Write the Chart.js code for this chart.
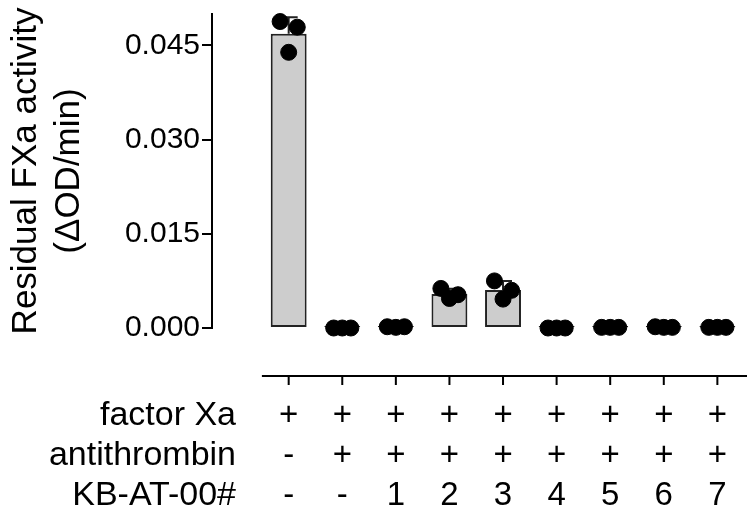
<!DOCTYPE html>
<html>
<head>
<meta charset="utf-8">
<script src="https://cdn.jsdelivr.net/npm/chart.js@4.4.1/dist/chart.umd.min.js"></script>
<style>
  html, body { margin: 0; padding: 0; background: #fff; overflow: hidden; }
</style>
</head>
<body>
<canvas id="fxaChart" width="747" height="512"></canvas>
<script>
// conditions per lane
const factorXa     = ['+', '+', '+', '+', '+', '+', '+', '+', '+'];
const antithrombin = ['-', '+', '+', '+', '+', '+', '+', '+', '+'];
const kbAt         = ['-', '-', '1', '2', '3', '4', '5', '6', '7'];
const rowNames     = ['factor Xa', 'antithrombin', 'KB-AT-00#'];

// residual FXa activity, three replicates (ΔOD/min)
const rep1 = [0.0488, 0, 0.0002, 0.0063, 0.0075, 0, 0.0001, 0.0002, 0.0001];
const rep2 = [0.0479, 0, 0.0002, 0.0053, 0.0060, 0, 0.0001, 0.0001, 0.0001];
const rep3 = [0.0439, 0, 0.0001, 0.0047, 0.0046, 0, 0.0001, 0.0001, 0.0001];

const yTicks = [0, 0.015, 0.030, 0.045];

const reps = [rep1, rep2, rep3];
const means = factorXa.map((_, i) => reps.reduce((s, r) => s + r[i], 0) / reps.length);
const sds = means.map((m, i) =>
  Math.sqrt(reps.reduce((s, r) => s + (r[i] - m) ** 2, 0) / (reps.length - 1)));

const jitter = [-0.16, 0.16, 0];   // horizontal spread of the dots inside a bar
const FONT = "'Liberation Sans', Arial, sans-serif";
const LINE = 40;                    // line height of the condition table
const LABEL_PAD = 68;               // gap from plot bottom to the table

const extras = {
  id: 'extras',
  // SD whiskers (upper only), drawn over the bars but under the dots
  afterDatasetDraw(chart, args) {
    if (args.index !== 0) return;
    const ctx = chart.ctx, y = chart.scales.y;
    const bars = chart.getDatasetMeta(0).data;
    ctx.save();
    ctx.strokeStyle = '#222';
    ctx.lineWidth = 2;
    bars.forEach((bar, i) => {
      if (!(sds[i] > 0)) return;
      const top = y.getPixelForValue(means[i] + sds[i]);
      const half = bar.width / 4;
      ctx.beginPath();
      ctx.moveTo(bar.x, bar.y);
      ctx.lineTo(bar.x, top);
      ctx.moveTo(bar.x - half, top);
      ctx.lineTo(bar.x + half, top);
      ctx.stroke();
    });
    ctx.restore();
  },
  // detached x axis line + row captions of the condition table
  afterDraw(chart) {
    const ctx = chart.ctx, x = chart.scales.x;
    const axisY = chart.chartArea.bottom + 48;
    ctx.save();
    ctx.strokeStyle = '#000';
    ctx.lineWidth = 2;
    ctx.beginPath();
    ctx.moveTo(x.getPixelForValue(-0.5), axisY);
    ctx.lineTo(chart.width, axisY);
    factorXa.forEach((_, i) => {
      const px = x.getPixelForValue(i);
      ctx.moveTo(px, axisY);
      ctx.lineTo(px, axisY + 9);
    });
    ctx.stroke();

    ctx.fillStyle = '#000';
    ctx.font = '34px ' + FONT;
    ctx.textAlign = 'right';
    ctx.textBaseline = 'middle';
    rowNames.forEach((t, k) => {
      ctx.fillText(t, 236, x.top + LABEL_PAD + LINE / 2 + k * LINE);
    });
    ctx.restore();
  }
};

new Chart(document.getElementById('fxaChart'), {
  type: 'bar',
  data: {
    datasets: [
      {
        type: 'bar',
        data: means.map((m, i) => ({ x: i, y: m })),
        backgroundColor: '#cdcdcd',
        borderColor: '#222',
        borderWidth: 2,
        borderSkipped: false,
        barPercentage: 0.67,
        categoryPercentage: 1,
        minBarLength: 2,
        order: 2
      },
      ...reps.map((r, k) => ({
        type: 'scatter',
        data: r.map((v, i) => ({ x: i + jitter[k], y: v })),
        pointRadius: 8,
        pointBackgroundColor: '#000',
        pointBorderColor: '#000',
        pointBorderWidth: 1,
        showLine: false,
        clip: false,
        order: 1
      }))
    ]
  },
  options: {
    responsive: false,
    animation: false,
    layout: { padding: { top: 14, left: 0, right: 0, bottom: 0 } },
    plugins: {
      legend: { display: false },
      tooltip: { enabled: false }
    },
    scales: {
      x: {
        type: 'linear',
        min: -1.431,
        max: 8.385,
        offset: false,
        afterBuildTicks: s => { s.ticks = factorXa.map((_, i) => ({ value: i })); },
        afterFit: s => { s.height = 184; s.paddingLeft = 0; s.paddingRight = 0; },
        border: { display: false },
        grid: { display: false, drawTicks: false },
        ticks: {
          autoSkip: false,
          maxRotation: 0,
          padding: LABEL_PAD,
          color: '#000',
          font: { family: FONT, size: 33, lineHeight: LINE / 33 },
          callback: (v, i) => [factorXa[i], antithrombin[i], kbAt[i]]
        }
      },
      y: {
        min: 0,
        max: 0.05,
        afterBuildTicks: s => { s.ticks = yTicks.map(v => ({ value: v })); },
        afterFit: s => { s.width = 212; s.paddingTop = 0; s.paddingBottom = 0; },
        border: { display: true, color: '#000', width: 2 },
        grid: { drawOnChartArea: false, drawTicks: true, tickLength: 10, color: '#000', lineWidth: 2 },
        ticks: {
          padding: 2,
          color: '#000',
          font: { family: FONT, size: 30 },
          callback: v => v.toFixed(3)
        },
        title: {
          display: true,
          text: ['Residual FXa activity', '(ΔOD/min)'],
          color: '#000',
          font: { family: FONT, size: 35, lineHeight: 43 / 35 },
          padding: { top: 5, bottom: 0 }
        }
      }
    }
  },
  plugins: [extras]
});
</script>
</body>
</html>
